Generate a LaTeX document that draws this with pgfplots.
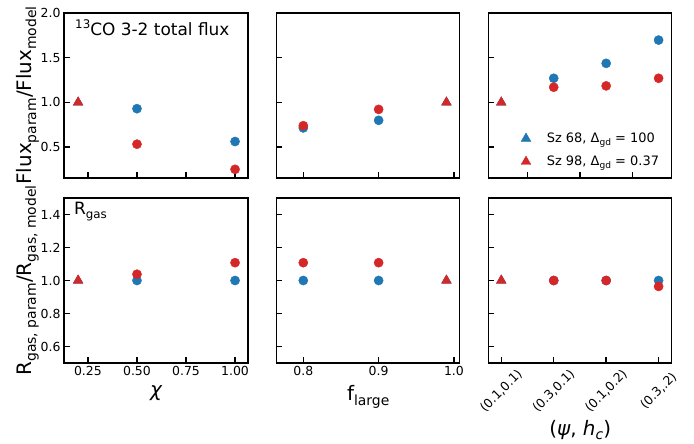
\documentclass[border=0pt]{standalone}
\usepackage{graphicx}
\usepackage{pgfplots}
\pgfplotsset{compat=1.18}
\usepackage{fontspec}
\setmainfont{DejaVu Sans}
\definecolor{tblue}{HTML}{1F77B4}
\definecolor{tred}{HTML}{D62728}
\newcommand{\sub}[1]{\raisebox{-0.22em}{\scalebox{0.7}{#1}}}
\newcommand{\sups}[1]{\raisebox{0.42em}{\scalebox{0.7}{#1}}}
\pgfplotsset{
  panel/.style={
    scale only axis, height=165bp, anchor=south west,
    axis line style={line width=1.5bp},
    tick align=inside,
    major tick length=5.5bp,
    major tick style={line width=1.5bp, black},
    tick pos=left,
    tick label style={font=\fontsize{12.5}{15}\selectfont},
    label style={font=\fontsize{20}{24}\selectfont},
    clip=false,
  },
  toprow/.style={ymin=0.155, ymax=2.0, ytick={0.5,1,1.5,2}},
  botrow/.style={ymin=0.5, ymax=1.5, ytick={0.6,0.8,1.0,1.2,1.4}},
  c1/.style={width=184bp, xmin=0.128, xmax=1.066, xtick={0.25,0.5,0.75,1.0}},
  c2/.style={width=183bp, xmin=0.7647, xmax=1.0076, xtick={0.8,0.9,1.0}},
  c3/.style={width=183bp, xmin=-0.24, xmax=3.25},
  bc/.style={only marks, mark=*, mark size=4.6bp, color=tblue},
  rc/.style={only marks, mark=*, mark size=4.6bp, color=tred},
  bt/.style={only marks, mark=triangle*, mark size=5.6bp, color=tblue},
  rt/.style={only marks, mark=triangle*, mark size=5.6bp, color=tred},
  ylab/.style={ylabel style={at={(axis description cs:-0.196,0.5)}, anchor=center}},
}
\begin{document}
\begin{tikzpicture}
\useasboundingbox (0,0) rectangle (694bp,444bp);
% ---------- top row ----------
\begin{axis}[panel, toprow, c1, at={(64bp,266bp)},
  xticklabels={}, yticklabels={0.5,1.0,1.5,2.0}, ylab,
  ylabel={Flux\sub{param}/Flux\sub{model}}]
\addplot[bt] coordinates {(0.2,1.0)};
\addplot[rt] coordinates {(0.2,1.0)};
\addplot[bc] coordinates {(0.5,0.93) (1.0,0.563)};
\addplot[rc] coordinates {(0.5,0.533) (1.0,0.252)};
\node[anchor=base west, font=\fontsize{17}{20}\selectfont, inner sep=0pt] at (rel axis cs:0.06,0.861) {\sups{13}CO 3-2 total flux};
\end{axis}
\begin{axis}[panel, toprow, c2, at={(276.7bp,266bp)},
  xticklabels={}, yticklabels={}]
\addplot[bc] coordinates {(0.8,0.715) (0.9,0.80)};
\addplot[rc] coordinates {(0.8,0.74) (0.9,0.922)};
\addplot[bt] coordinates {(0.99,1.0)};
\addplot[rt] coordinates {(0.99,1.0)};
\end{axis}
\begin{axis}[panel, toprow, c3, at={(488.7bp,266bp)},
  xtick={0.5,1.5,2.5}, xticklabels={}, yticklabels={},
  legend cell align=left,
  legend style={draw=none, fill=none, font=\fontsize{13}{15}\selectfont,
    at={(axis description cs:0.16,0.04)}, anchor=south west, row sep=8bp,
    /tikz/every odd column/.append style={column sep=14bp}}]
\addplot[bt] coordinates {(0,1.0)};
\addlegendentry{Sz 68, Δ\sub{gd} = 100}
\addplot[rt] coordinates {(0,1.0)};
\addlegendentry{Sz 98, Δ\sub{gd} = 0.37}
\addplot[bc, forget plot] coordinates {(1,1.27) (2,1.437) (3,1.697)};
\addplot[rc, forget plot] coordinates {(1,1.17) (2,1.185) (3,1.27)};
\end{axis}
% ---------- bottom row ----------
\begin{axis}[panel, botrow, c1, at={(64bp,81bp)},
  xticklabels={0.25,0.50,0.75,1.00}, yticklabels={0.6,0.8,1.0,1.2,1.4}, ylab,
  ylabel={R\sub{gas, param}/R\sub{gas, model}},
  xlabel={\itshape χ},
  xlabel style={at={(axis description cs:0.5,-0.18)}, anchor=center}]
\addplot[bt] coordinates {(0.2,1.0)};
\addplot[rt] coordinates {(0.2,1.0)};
\addplot[bc] coordinates {(0.5,1.0) (1.0,1.0)};
\addplot[rc] coordinates {(0.5,1.038) (1.0,1.108)};
\node[anchor=base west, font=\fontsize{17}{20}\selectfont, inner sep=0pt] at (rel axis cs:0.054,0.897) {R\sub{gas}};
\end{axis}
\begin{axis}[panel, botrow, c2, at={(276.7bp,81bp)},
  xticklabels={0.8,0.9,1.0}, yticklabels={},
  xlabel={f\sub{large}},
  xlabel style={at={(axis description cs:0.5,-0.206)}, anchor=center}]
\addplot[bc] coordinates {(0.8,1.0) (0.9,1.0)};
\addplot[rc] coordinates {(0.8,1.108) (0.9,1.108)};
\addplot[bt] coordinates {(0.99,1.0)};
\addplot[rt] coordinates {(0.99,1.0)};
\end{axis}
\begin{axis}[panel, botrow, c3, at={(488.7bp,81bp)},
  xtick={0,1,2,3}, xticklabels={{(0.1,0.1)},{(0.3,0.1)},{(0.1,0.2)},{(0.3,.2)}},
  xticklabel style={yshift=-28bp, rotate=45, anchor=center},
  yticklabels={},
  xlabel={(\textit{ψ}, \textit{h}\sub{\textit{c}})},
  xlabel style={at={(axis description cs:0.5,-0.406)}, anchor=center}]
\addplot[bt] coordinates {(0,1.0)};
\addplot[rt] coordinates {(0,1.0)};
\addplot[bc] coordinates {(1,1.0) (2,1.0) (3,1.0)};
\addplot[rc] coordinates {(1,1.0) (2,1.0) (3,0.964)};
\end{axis}
\end{tikzpicture}
\end{document}
